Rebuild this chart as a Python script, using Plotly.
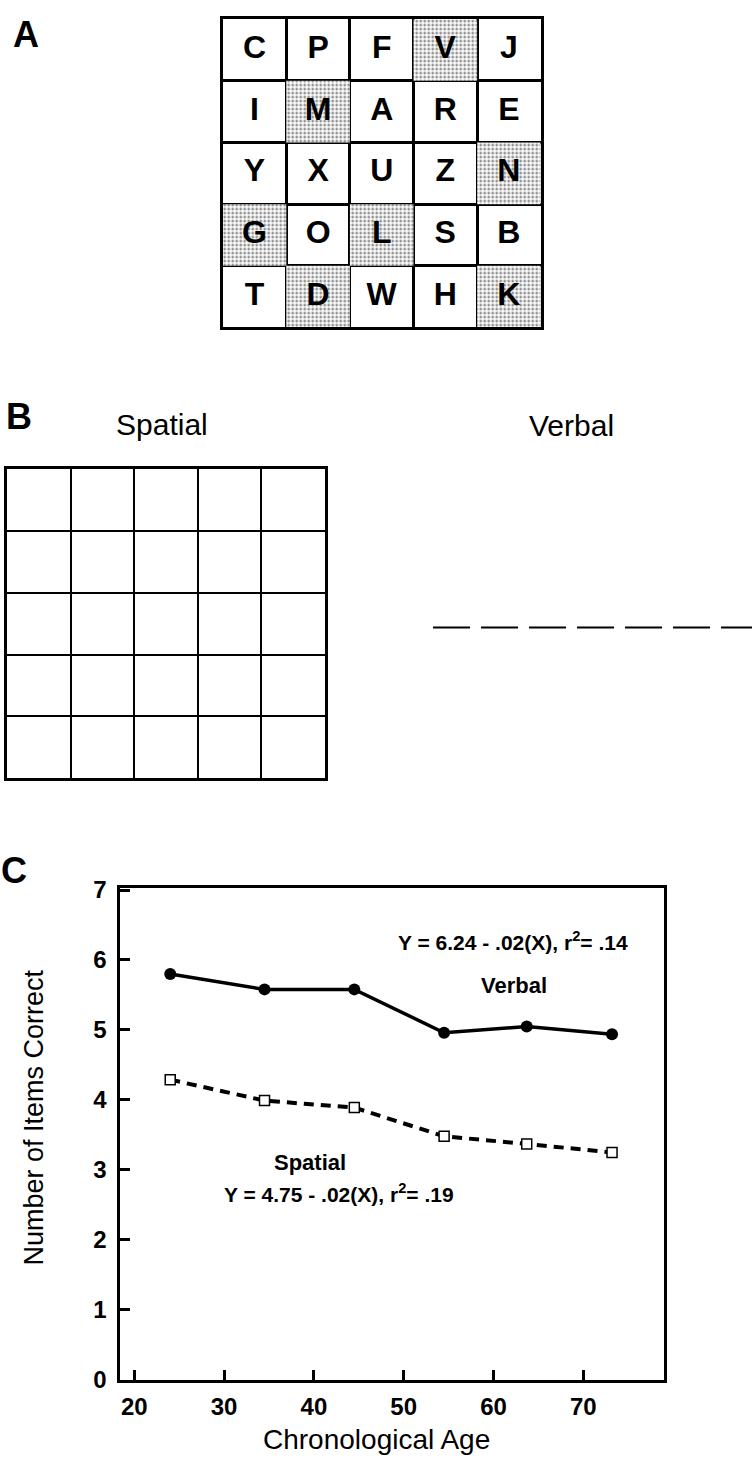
import plotly.graph_objects as go

W, H = 752, 1469
FONT = "Liberation Sans, Arial, Helvetica, sans-serif"

# ---------------- data ----------------
# Panel A: 5x5 letter matrix (rows top to bottom) and shaded (row, col) cells
grid_letters = [
    ["C", "P", "F", "V", "J"],
    ["I", "M", "A", "R", "E"],
    ["Y", "X", "U", "Z", "N"],
    ["G", "O", "L", "S", "B"],
    ["T", "D", "W", "H", "K"],
]
shaded_cells = [(0, 3), (1, 1), (2, 4), (3, 0), (3, 2), (4, 1), (4, 4)]
grid_n = 5

# Panel B: verbal response line (blank answer line)
verbal_line_x = [0, 1]
verbal_line_y = [0, 0]

# Panel C: mean items correct by age group
ages = [24.0, 34.5, 44.5, 54.5, 63.7, 73.2]
verbal = [5.80, 5.58, 5.58, 4.96, 5.05, 4.94]
spatial = [4.29, 3.99, 3.89, 3.48, 3.37, 3.25]
x_ticks = [20, 30, 40, 50, 60, 70]
y_ticks = [0, 1, 2, 3, 4, 5, 6, 7]
verbal_eq = "Y = 6.24 - .02(X), r<sup>2</sup>= .14"
spatial_eq = "Y = 4.75 - .02(X), r<sup>2</sup>= .19"


def fx(px):
    return px / W


def fy(py):
    return 1 - py / H


fig = go.Figure()

# ---------------- Panel C ----------------
fig.add_trace(go.Scatter(
    x=ages, y=verbal, mode="lines+markers",
    line=dict(color="black", width=3.5),
    marker=dict(symbol="circle", size=12, color="black"),
    xaxis="x", yaxis="y", hoverinfo="skip"))
fig.add_trace(go.Scatter(
    x=ages, y=spatial, mode="lines+markers",
    line=dict(color="black", width=4, dash="10px,7px"),
    marker=dict(symbol="square", size=10, color="white",
                line=dict(color="black", width=1.5)),
    xaxis="x", yaxis="y", hoverinfo="skip"))

# ---------------- Panel A ----------------
lx, ly, lt = [], [], []
for r, row in enumerate(grid_letters):
    for c, ch in enumerate(row):
        lx.append(c + 0.5)
        ly.append(grid_n - r - 0.5)
        lt.append(ch)

sx, sy = [], []
for r, c in shaded_cells:
    y0 = grid_n - r - 1
    sx += [c, c + 1, c + 1, c, c, None]
    sy += [y0, y0, y0 + 1, y0 + 1, y0, None]

fig.add_trace(go.Scatter(
    x=sx, y=sy, mode="lines", fill="toself",
    line=dict(width=0, color="rgba(0,0,0,0)"),
    fillcolor="white",
    fillpattern=dict(shape=".", fgcolor="#222222", bgcolor="white",
                     size=4, solidity=0.4),
    xaxis="x2", yaxis="y2", hoverinfo="skip"))
fig.add_trace(go.Scatter(
    x=lx, y=ly, text=lt, mode="text",
    textfont=dict(family=FONT, size=32, color="black", weight="bold"),
    xaxis="x2", yaxis="y2", hoverinfo="skip"))

# ---------------- Panel B ----------------
fig.add_trace(go.Scatter(
    x=[None], y=[None], mode="markers", xaxis="x3", yaxis="y3",
    hoverinfo="skip"))
fig.add_trace(go.Scatter(
    x=verbal_line_x, y=verbal_line_y, mode="lines",
    line=dict(color="black", width=2, dash="37px,11px"),
    xaxis="x4", yaxis="y4", hoverinfo="skip"))


def grid_axis(gw, lw):
    return dict(range=[0, grid_n], tickvals=list(range(1, grid_n)),
                showgrid=True, gridcolor="black", gridwidth=gw,
                showticklabels=False, ticks="", zeroline=False,
                showline=True, mirror=True, linecolor="black",
                linewidth=lw, fixedrange=True)


hidden = dict(visible=False, fixedrange=True)

tick_font = dict(family=FONT, size=24, color="black", weight="bold")

fig.update_layout(
    width=W, height=H,
    margin=dict(l=0, r=0, t=0, b=0),
    paper_bgcolor="white", plot_bgcolor="white",
    showlegend=False,
    xaxis=dict(domain=[fx(119.5), fx(664.2)], range=[18.35, 79.01],
               tickvals=x_ticks, ticks="inside", ticklen=10, tickwidth=2.5,
               tickcolor="black", tickfont=tick_font, ticklabelstandoff=3,
               showline=True, mirror=True, linecolor="black", linewidth=3,
               showgrid=False, zeroline=False, fixedrange=True, anchor="y"),
    yaxis=dict(domain=[fy(1391.5), fy(891.5)], range=[0, 7.03],
               tickvals=y_ticks, ticks="inside", ticklen=10, tickwidth=2.5,
               tickcolor="black", tickfont=tick_font, ticklabelstandoff=5,
               showline=True, mirror=True, linecolor="black", linewidth=3,
               showgrid=False, zeroline=False, fixedrange=True, anchor="x"),
    xaxis2=dict(domain=[fx(222.7), fx(540.7)], anchor="y2", **grid_axis(2.6, 3)),
    yaxis2=dict(domain=[fy(321.7), fy(8.3)], anchor="x2", **grid_axis(2.6, 3)),
    xaxis3=dict(domain=[fx(7.3), fx(325)], anchor="y3", **grid_axis(2.3, 2.8)),
    yaxis3=dict(domain=[fy(780), fy(466)], anchor="x3", **grid_axis(2.3, 2.8)),
    xaxis4=dict(domain=[fx(433), 1.0], range=[0, 1], anchor="y4", **hidden),
    yaxis4=dict(domain=[fy(656.7), fy(596.7)], range=[-1, 1], anchor="x4",
                **hidden),
)

ann = []


def add_text(text, px, py, size, bold=False, xanchor="center", angle=0):
    ann.append(dict(
        text=f"<b>{text}</b>" if bold else text,
        x=fx(px), y=fy(py), xref="paper", yref="paper",
        xanchor=xanchor, yanchor="middle", showarrow=False,
        textangle=angle,
        font=dict(family=FONT, size=size, color="black")))


# panel letters
add_text("A", 11, 24, 36, bold=True, xanchor="left")
add_text("B", 4, 412, 36, bold=True, xanchor="left")
add_text("C", -1, 874, 36, bold=True, xanchor="left")
# panel B headings
add_text("Spatial", 161.5, 420, 30)
add_text("Verbal", 571, 421, 30)
# panel C labels
add_text(verbal_eq, 513, 945, 21, bold=True)
add_text("Verbal", 514, 991, 22, bold=True)
add_text("Spatial", 310, 1171, 22, bold=True)
add_text(spatial_eq, 339, 1202, 21, bold=True)
# axis titles
add_text("Chronological Age", 376, 1452, 28)
add_text("Number of Items Correct", 34, 1125, 27, angle=-90)

fig.update_layout(annotations=ann)

fig.write_html("out.html", config={"displayModeBar": False})
